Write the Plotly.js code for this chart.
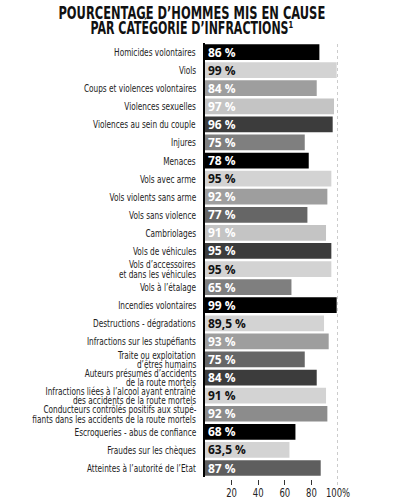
<!DOCTYPE html>
<html>
<head>
<meta charset="utf-8">
<script src="https://cdn.plot.ly/plotly-3.0.1.min.js"></script>
<style>
html,body{margin:0;padding:0;background:#fff;}
#chart{width:398px;height:500px;}
</style>
</head>
<body>
<div id="chart"></div>
<script>
var categories = [
  "Homicides volontaires",
  "Viols",
  "Coups et violences volontaires",
  "Violences sexuelles",
  "Violences au sein du couple",
  "Injures",
  "Menaces",
  "Vols avec arme",
  "Vols violents sans arme",
  "Vols sans violence",
  "Cambriolages",
  "Vols de véhicules",
  "Vols d’accessoires<br>et dans les véhicules",
  "Vols à l’étalage",
  "Incendies volontaires",
  "Destructions - dégradations",
  "Infractions sur les stupéfiants",
  "Traite ou exploitation<br>d’êtres humains",
  "Auteurs présumés d’accidents<br>de la route mortels",
  "Infractions liées à l’alcool ayant entraîné<br>des accidents de la route mortels",
  "Conducteurs contrôlés positifs aux stupé-<br>fiants dans les accidents de la route mortels",
  "Escroqueries - abus de confiance",
  "Fraudes sur les chèques",
  "Atteintes à l’autorité de l’Etat"
];
var values = [86, 99, 84, 97, 96, 75, 78, 95, 92, 77, 91, 95, 95, 65, 99, 89.5, 93, 75, 84, 91, 92, 68, 63.5, 87];
var barColors = [
  "#000000", "#d3d3d3", "#9e9e9e", "#c4c4c4", "#3c3c3c", "#7f7f7f",
  "#000000", "#d3d3d3", "#9e9e9e", "#666666", "#c4c4c4", "#3c3c3c",
  "#d3d3d3", "#7f7f7f", "#000000", "#d3d3d3", "#9e9e9e", "#666666",
  "#3c3c3c", "#d3d3d3", "#8c8c8c", "#000000", "#d3d3d3", "#5e5e5e"
];
var textColors = [
  "#ffffff", "#111111", "#ffffff", "#ffffff", "#ffffff", "#ffffff",
  "#ffffff", "#111111", "#ffffff", "#ffffff", "#ffffff", "#ffffff",
  "#111111", "#ffffff", "#ffffff", "#111111", "#ffffff", "#ffffff",
  "#ffffff", "#111111", "#ffffff", "#ffffff", "#111111", "#ffffff"
];
var tickValues = [20, 40, 60, 80, 100];
var tickLabels = ["20", "40", "60", "80", "100%"];
var titleLine1 = "POURCENTAGE D’HOMMES MIS EN CAUSE";
var titleLine2 = "PAR CATÉGORIE D’INFRACTIONS¹";

var condFont = "'DejaVu Sans Condensed', 'Liberation Sans Narrow', 'DejaVu Sans', sans-serif";

var barText = values.map(function (v) { return String(v).replace('.', ',') + ' %'; });

var trace = {
  type: 'bar',
  orientation: 'h',
  x: values,
  y: categories,
  marker: { color: barColors, line: { width: 0 } },
  text: barText,
  textposition: 'inside',
  insidetextanchor: 'start',
  textangle: 0,
  constraintext: 'none',
  textfont: { family: "'Open Sans', sans-serif", size: 12, weight: 700, color: textColors },
  hoverinfo: 'none',
  cliponaxis: false
};

// category labels as right-aligned annotations, one per line
var LINE_GAP = 9.5;
var labelAnnotations = [];
categories.forEach(function (cat) {
  var lines = cat.split('<br>');
  var n = lines.length;
  lines.forEach(function (line, j) {
    labelAnnotations.push({
      text: line,
      xref: 'paper', yref: 'y',
      x: 0, y: cat,
      xanchor: 'right', yanchor: 'middle', align: 'right',
      xshift: -7,
      yshift: ((n - 1) / 2 - j) * LINE_GAP,
      showarrow: false,
      font: { family: condFont, size: 10.5, color: '#222222' }
    });
  });
});

var layout = {
  width: 398,
  height: 500,
  paper_bgcolor: '#ffffff',
  plot_bgcolor: '#ffffff',
  margin: { l: 205, r: 60, t: 43, b: 15, pad: 0 },
  showlegend: false,
  bargap: 0.13,
  title: {
    text: titleLine1,
    font: { family: condFont, size: 17, weight: 700, color: '#111111' },
    x: 0.482, xref: 'container', xanchor: 'center',
    y: 0.986, yref: 'container', yanchor: 'top'
  },
  annotations: [{
    text: titleLine2,
    font: { family: condFont, size: 17, weight: 700, color: '#111111' },
    xref: 'paper', yref: 'paper',
    x: (192 - 205) / 133, xanchor: 'center', align: 'center',
    y: 1 + (43 - 28) / 442, yanchor: 'middle',
    showarrow: false
  }].concat(labelAnnotations),
  xaxis: {
    range: [0, 100],
    autorange: false,
    anchor: 'free',
    position: 0,
    showgrid: false,
    zeroline: false,
    showline: false,
    ticks: 'inside',
    ticklen: 5,
    tickwidth: 1,
    tickcolor: '#333333',
    tickvals: tickValues,
    ticktext: tickLabels,
    tickfont: { family: condFont, size: 11.5, color: '#222222' },
    fixedrange: true
  },
  yaxis: {
    domain: [0.018, 1],
    autorange: 'reversed',
    showgrid: false,
    zeroline: false,
    showline: true,
    linecolor: '#000000',
    linewidth: 2.5,
    ticks: '',
    showticklabels: false,
    fixedrange: true
  },
  shapes: [{
    type: 'line',
    xref: 'x', yref: 'paper',
    x0: 100, x1: 100, y0: 0, y1: 1,
    line: { color: '#999999', width: 1, dash: '3px,3px' },
    layer: 'below'
  }]
};

// horizontally condense a text element around its anchor point
function squeezeEl(t, factor) {
  var bb;
  try { bb = t.getBBox(); } catch (e) { return; }
  if (!bb || bb.width <= 0) return;
  var anchor = window.getComputedStyle(t).textAnchor || t.getAttribute('text-anchor') || 'start';
  var ax = anchor === 'end' ? bb.x + bb.width : (anchor === 'middle' ? bb.x + bb.width / 2 : bb.x);
  var prev = t.getAttribute('transform') || '';
  t.setAttribute('transform', (prev + ' translate(' + ax + ',0) scale(' + factor + ',1) translate(' + (-ax) + ',0)').trim());
}

Plotly.newPlot('chart', [trace], layout, { displayModeBar: false, staticPlot: true }).then(function () {
  document.querySelectorAll('.gtitle').forEach(function (t) { squeezeEl(t, 0.75); });
  document.querySelectorAll('.annotation').forEach(function (a) {
    var t = a.querySelector('text.annotation-text');
    if (!t) return;
    squeezeEl(t, a.getAttribute('data-index') === '0' ? 0.72 : 0.78);
  });
  document.querySelectorAll('.xtick text').forEach(function (t) { squeezeEl(t, 0.82); });
});
</script>
</body>
</html>
